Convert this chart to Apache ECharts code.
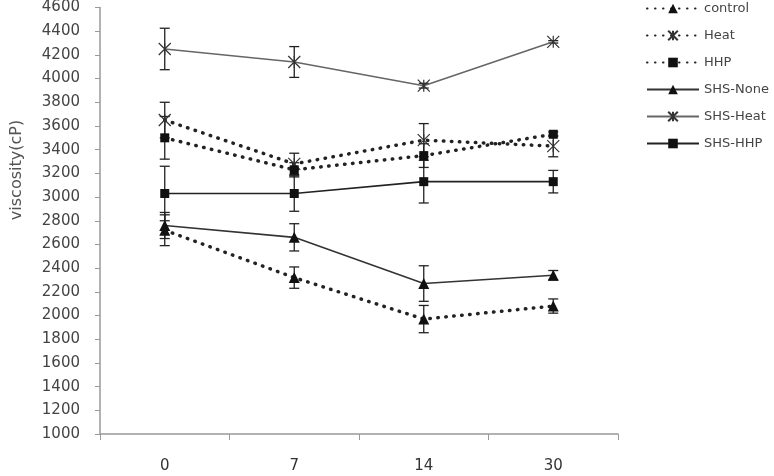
<!DOCTYPE html>
<html>
<head>
<meta charset="utf-8">
<script src="https://cdn.jsdelivr.net/npm/echarts@6/dist/echarts.min.js"></script>
<style>
  html, body { margin: 0; padding: 0; background: #fff; }
  #main { width: 774px; height: 476px; }
</style>
</head>
<body>
<div id="main"></div>
<script>
// storage days
var days = ['0', '7', '14', '30']

// viscosity means and error (sd) per group
var control = [2720, 2320, 1970, 2080]
var controlErr = [130, 90, 115, 60]
var heat = [3650, 3280, 3480, 3430]
var heatErr = [150, 90, 140, 90]
var hhp = [3500, 3230, 3350, 3530]
var hhpErr = [180, 60, 100, 20]
var shsNone = [2760, 2660, 2270, 2340]
var shsNoneErr = [110, 115, 150, 40]
var shsHeat = [4250, 4140, 3940, 4310]
var shsHeatErr = [175, 130, 20, 10]
var shsHhp = [3030, 3030, 3130, 3130]
var shsHhpErr = [230, 150, 180, 95]

var xMark = 'path://M0 0L20 20M20 0L0 20M10 0L10 20'
var font = '"DejaVu Sans", "Noto Sans", sans-serif'

function dotted(name, data, symbol, size) {
  return {
    name: name, type: 'line', data: data,
    symbol: symbol, symbolSize: size,
    itemStyle: symbol === xMark ? { color: 'transparent', borderColor: '#333', borderWidth: 1.2 } : { color: '#111' },
    lineStyle: { color: '#222', width: 3.5, type: [0.5, 7.5], cap: 'round' },
    z: 3
  }
}
function solid(name, data, symbol, size, col) {
  return {
    name: name, type: 'line', data: data,
    symbol: symbol, symbolSize: size,
    itemStyle: symbol === xMark ? { color: 'transparent', borderColor: '#333', borderWidth: 1.2 } : { color: '#111' },
    lineStyle: { color: col, width: 1.6 },
    z: 3
  }
}
function errBars(vals, errs) {
  var d = []
  for (var i = 0; i < vals.length; i++) {
    d.push([i, vals[i] - errs[i], vals[i] + errs[i]])
  }
  return {
    type: 'custom', data: d, z: 2, silent: true,
    renderItem: function (params, api) {
      var lo = api.coord([api.value(0), api.value(1)])
      var hi = api.coord([api.value(0), api.value(2)])
      var w = 5
      var st = { stroke: '#222', lineWidth: 1.3 }
      return {
        type: 'group',
        children: [
          { type: 'line', shape: { x1: lo[0], y1: lo[1], x2: hi[0], y2: hi[1] }, style: st },
          { type: 'line', shape: { x1: lo[0] - w, y1: lo[1], x2: lo[0] + w, y2: lo[1] }, style: st },
          { type: 'line', shape: { x1: hi[0] - w, y1: hi[1], x2: hi[0] + w, y2: hi[1] }, style: st }
        ]
      }
    }
  }
}

var myChart = echarts.init(document.getElementById('main'))
var option = {
  animation: false,
  grid: { left: 100, right: 156, top: 6, bottom: 42 },
  graphic: [{
    type: 'text', x: 17, y: 170, rotation: Math.PI / 2,
    style: { text: 'viscosity(cP)', font: '16px ' + font, fill: '#555', textAlign: 'center', textVerticalAlign: 'middle' }
  }],
  legend: {
    orient: 'vertical', left: 641, top: -3,
    itemWidth: 52, itemHeight: 12, itemGap: 14,
    textStyle: { fontFamily: font, fontSize: 13, color: '#444' },
    data: ['control', 'Heat', 'HHP', 'SHS-None', 'SHS-Heat', 'SHS-HHP']
  },
  xAxis: {
    type: 'category', data: days, boundaryGap: true,
    axisLine: { lineStyle: { color: '#999', width: 1.5 } },
    axisTick: { show: true, alignWithLabel: false, length: 6, lineStyle: { color: '#999' } },
    axisLabel: { fontFamily: font, fontSize: 15, color: '#333', margin: 25 }
  },
  yAxis: {
    type: 'value', min: 1000, max: 4600, interval: 200,
    axisLine: { show: true, lineStyle: { color: '#999', width: 1.5 } },
    axisTick: { show: true, length: 5, lineStyle: { color: '#999' } },
    splitLine: { show: false },
    axisLabel: { fontFamily: font, fontSize: 15, color: '#444', margin: 20, formatter: function (v) { return String(v) } }
  },
  series: [
    dotted('control', control, 'triangle', 11),
    dotted('Heat', heat, xMark, 12),
    dotted('HHP', hhp, 'rect', 9),
    solid('SHS-None', shsNone, 'triangle', 11, '#333'),
    solid('SHS-Heat', shsHeat, xMark, 12, '#666'),
    solid('SHS-HHP', shsHhp, 'rect', 9, '#222'),
    errBars(control, controlErr),
    errBars(heat, heatErr),
    errBars(hhp, hhpErr),
    errBars(shsNone, shsNoneErr),
    errBars(shsHeat, shsHeatErr),
    errBars(shsHhp, shsHhpErr)
  ]
}
myChart.setOption(option)
</script>
</body>
</html>
